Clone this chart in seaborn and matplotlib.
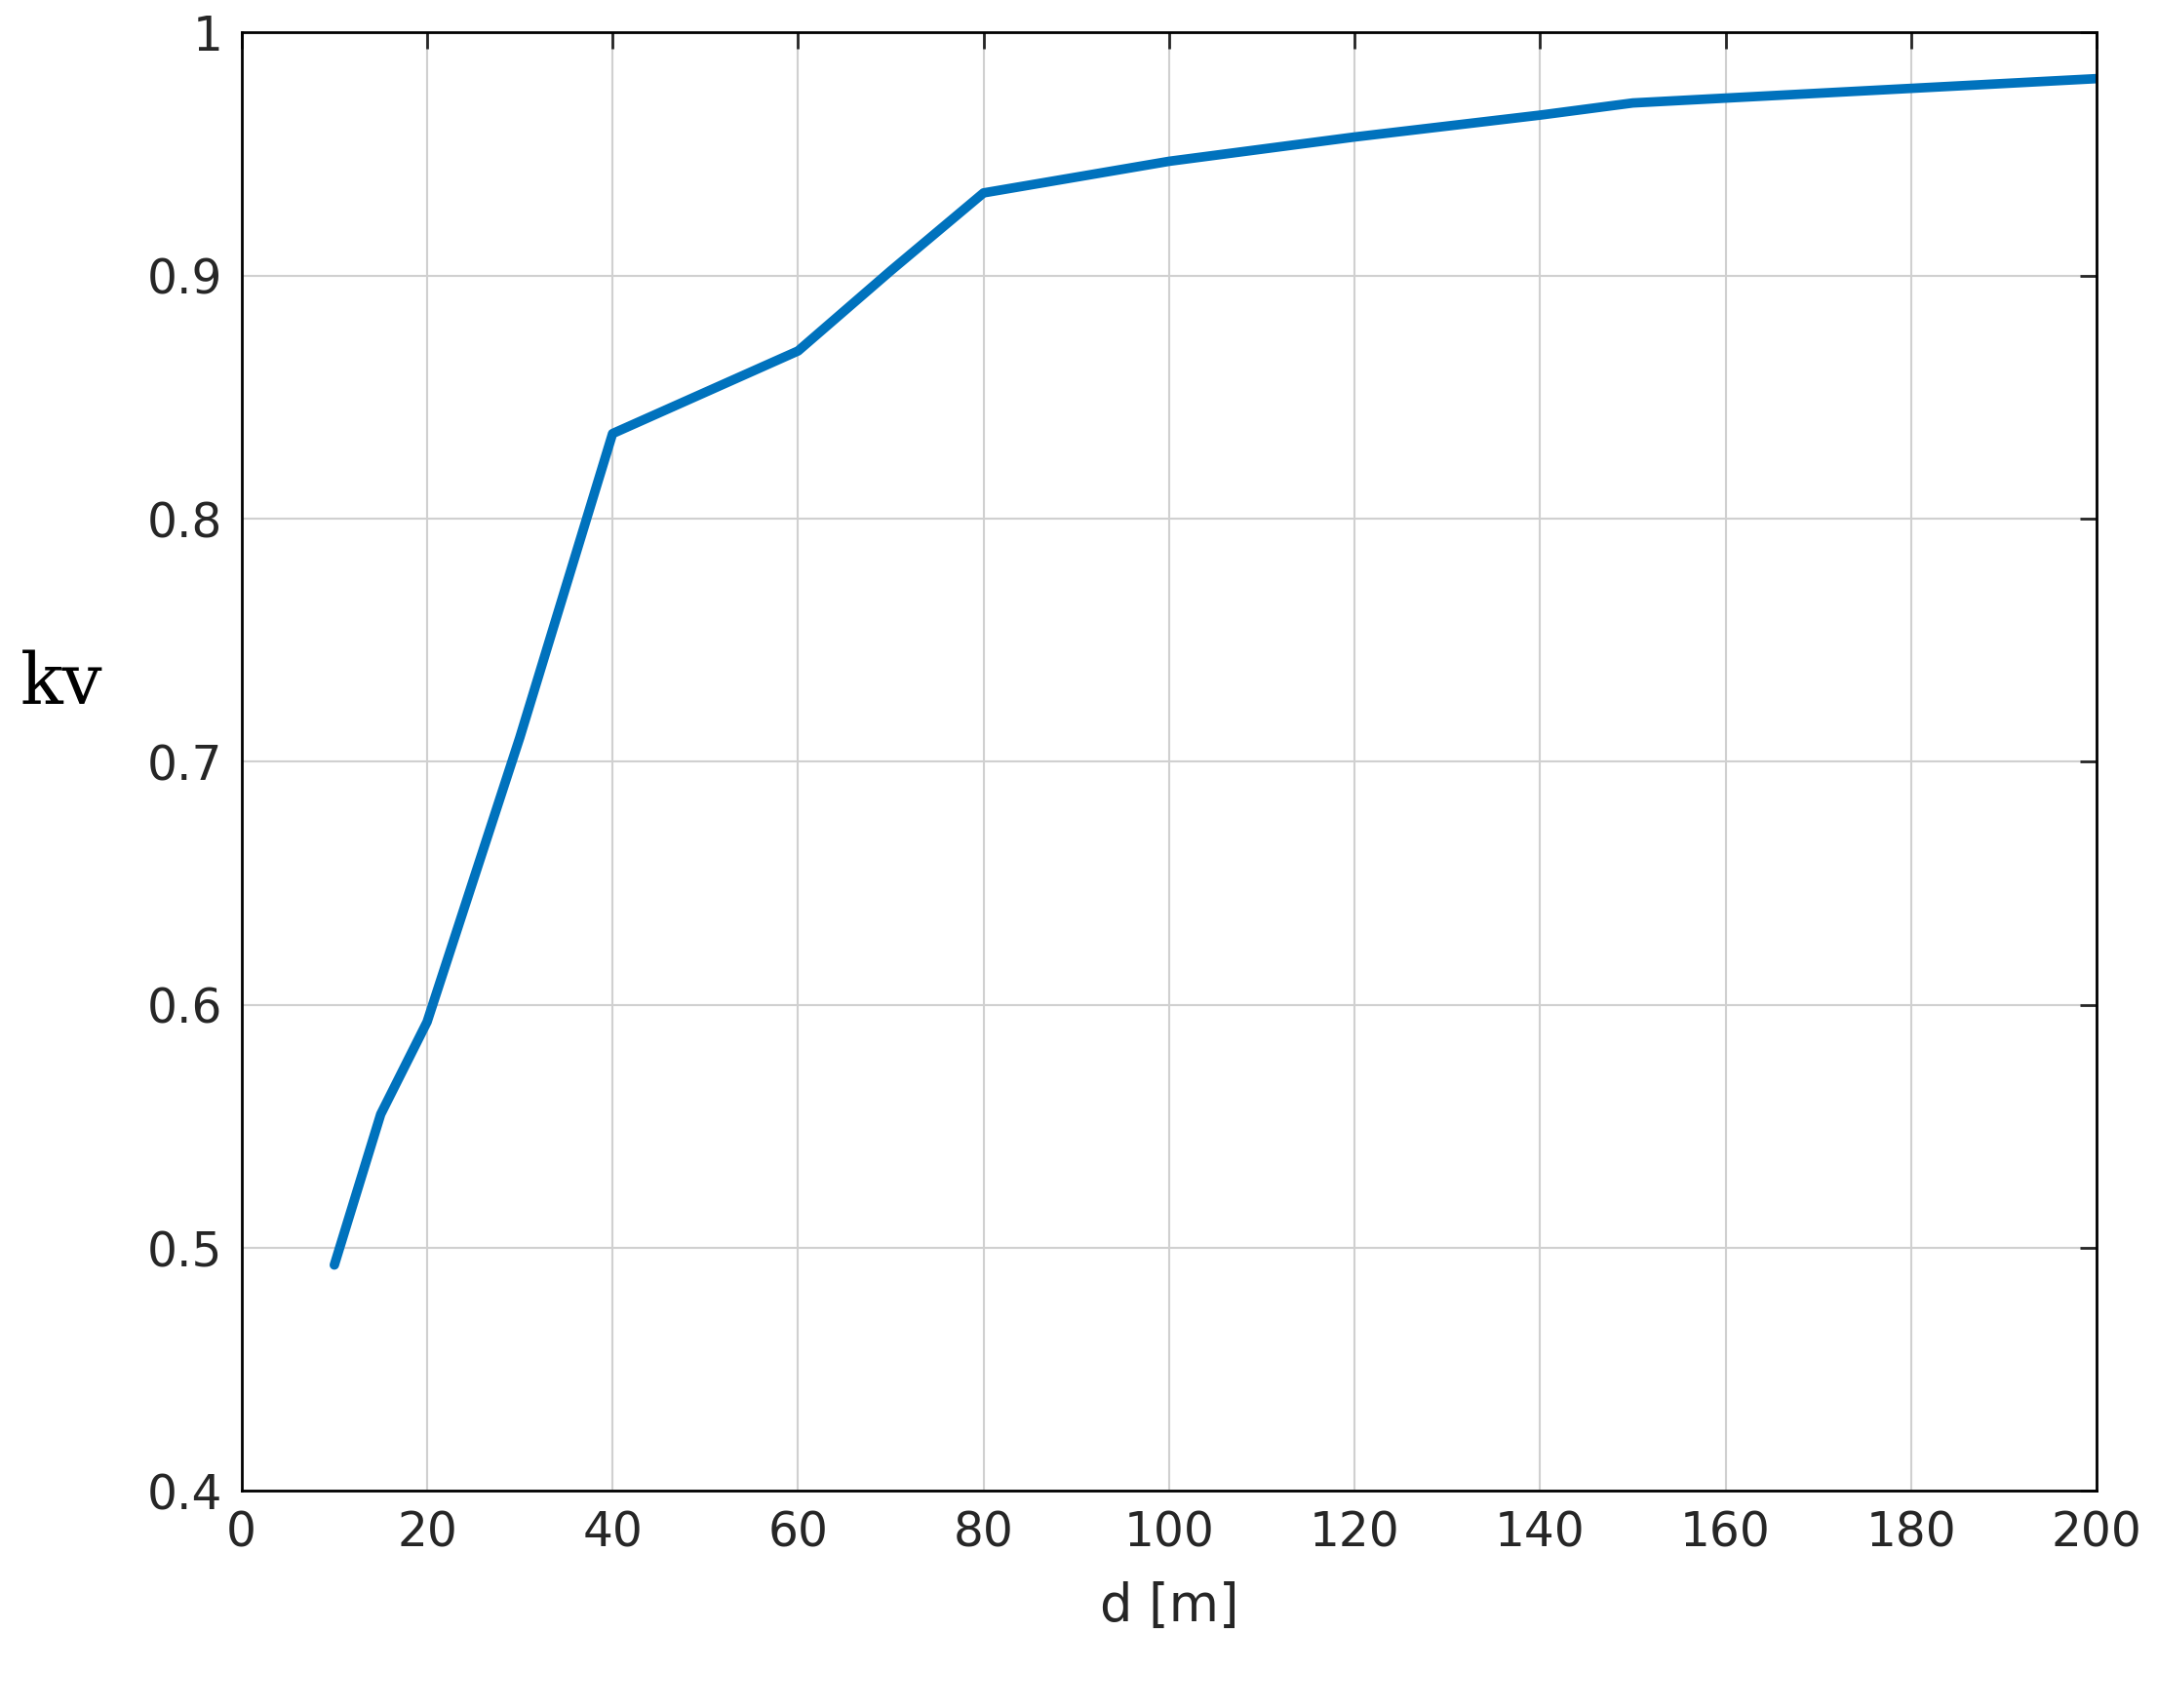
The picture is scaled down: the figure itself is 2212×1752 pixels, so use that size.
import matplotlib
matplotlib.use("Agg")
import matplotlib.pyplot as plt
import seaborn as sns
import pandas as pd

d_m = [10, 15, 20, 30, 40, 50, 60, 70, 80, 100, 120, 140, 150, 160, 180, 200]
kv = [0.493, 0.555, 0.593, 0.710, 0.835, 0.852, 0.869, 0.902, 0.934, 0.947, 0.957, 0.966, 0.971, 0.973, 0.977, 0.981]
xticks = list(range(0, 201, 20))
yticks = [0.4, 0.5, 0.6, 0.7, 0.8, 0.9, 1.0]
ytick_labels = ["0.4", "0.5", "0.6", "0.7", "0.8", "0.9", "1"]

sns.set_style("white")
plt.rcParams['font.family'] = ['DejaVu Sans']
fig = plt.figure(figsize=(22.12, 17.52), dpi=100)
ax = fig.add_axes([0.112, 0.127, 0.860, 0.854])
df = pd.DataFrame({"d": d_m, "kv": kv})
sns.lineplot(data=df, x="d", y="kv", ax=ax, color="#0072BD", linewidth=7)
ax.set_xlim(0, 200)
ax.set_ylim(0.4, 1.0)
ax.set_xticks(xticks)
ax.set_yticks(yticks)
ax.set_yticklabels(ytick_labels)
ax.grid(True, color="#d0d0d0", linewidth=1.5)
for s in ax.spines.values():
    s.set_color("black"); s.set_linewidth(2)
ax.tick_params(direction="in", length=12, width=2, top=True, right=True,
               labelsize=35, colors="#262626", pad=14)
ax.set_xlabel("d [m]", fontsize=38, color="#262626", labelpad=18)
ax.set_ylabel("kv", fontsize=52, family="DejaVu Serif", rotation=0, color="black")
ax.yaxis.set_label_coords(-0.097, 0.53)
fig.savefig("out.png", dpi=100)
